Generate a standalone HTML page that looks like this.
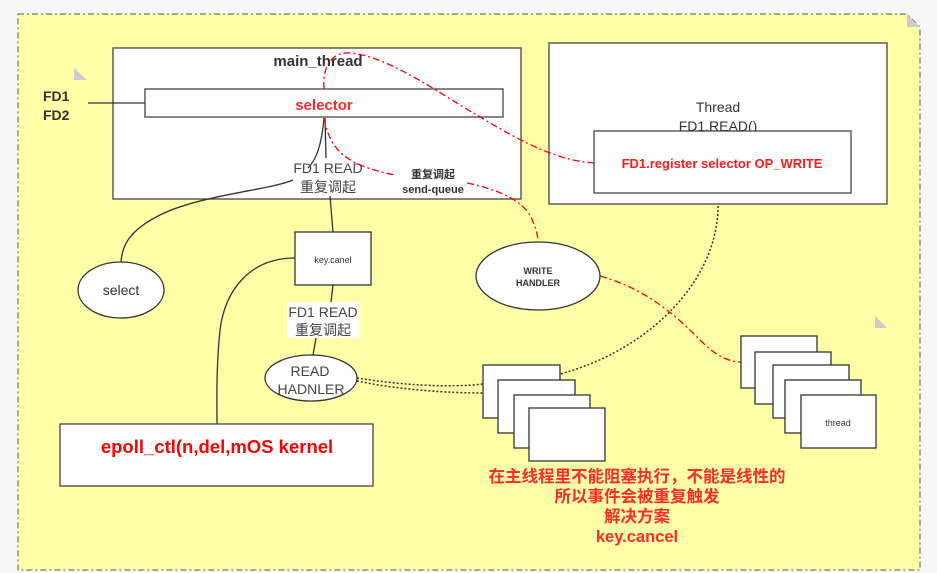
<!DOCTYPE html>
<html><head><meta charset="utf-8"><style>
html,body{margin:0;padding:0;background:#f8f8f8;}
svg{display:block;}
text{font-family:"Liberation Sans","Noto Sans CJK SC",sans-serif;}
</style></head><body>
<svg width="937" height="573" viewBox="0 0 937 573" xmlns="http://www.w3.org/2000/svg">
<rect x="0" y="0" width="937" height="573" fill="#f8f8f8"/>
<path d="M18,14 L907,14 L920,27 L920,570 L18,570 Z" fill="#ffffa8" stroke="#555" stroke-width="1" stroke-dasharray="6,3,2,3"/>
<path d="M907,14 L920,27 L907,27 Z" fill="#ccc"/>
<path d="M74,68 L87,80 L74,80 Z" fill="#ccc"/>
<path d="M875,316 L887,328 L875,328 Z" fill="#ccc"/>

<rect x="113" y="48" width="408" height="151" fill="#fff" stroke="#444" stroke-width="1.3"/>
<text x="318" y="66" font-size="15" font-weight="bold" fill="#333" text-anchor="middle">main_thread</text>
<rect x="145" y="89" width="358" height="28" fill="#fff" stroke="#444" stroke-width="1.3"/>
<text x="324" y="110" font-size="15" font-weight="bold" fill="#ff2a2a" text-anchor="middle">selector</text>
<text x="43" y="101" font-size="14" font-weight="bold" fill="#333">FD1</text>
<text x="43" y="120" font-size="14" font-weight="bold" fill="#333">FD2</text>
<line x1="88" y1="103" x2="145" y2="103" stroke="#333" stroke-width="1.3"/>

<rect x="549" y="43" width="338" height="161" fill="#fff" stroke="#444" stroke-width="1.3"/>
<text x="718" y="112" font-size="14" fill="#333" text-anchor="middle">Thread</text>
<text x="718" y="131" font-size="14" fill="#333" text-anchor="middle">FD1.READ()</text>
<rect x="594" y="131" width="257" height="62" fill="#fff" stroke="#444" stroke-width="1.3"/>
<text x="722" y="168" font-size="13" font-weight="bold" fill="#ff1a1a" text-anchor="middle">FD1.register selector OP_WRITE</text>

<path d="M324,118 C322,140 318,158 308,168" fill="none" stroke="#333" stroke-width="1.3"/>
<line x1="325" y1="118" x2="326" y2="158" stroke="#333" stroke-width="1.3"/>
<path d="M293,180 C270,190 200,195 160,215 C130,230 122,245 121,262" fill="none" stroke="#333" stroke-width="1.3"/>
<line x1="330" y1="196" x2="333" y2="232" stroke="#333" stroke-width="1.3"/>
<text x="328" y="173" font-size="14" fill="#444" text-anchor="middle">FD1 READ</text>
<text x="328" y="192" font-size="14" fill="#444" text-anchor="middle">重复调起</text>
<path d="M295,258 C250,258 225,290 220,330 C216,370 217,400 217,424" fill="none" stroke="#333" stroke-width="1.3"/>
<line x1="333" y1="285" x2="331" y2="302" stroke="#333" stroke-width="1.3"/>
<line x1="316" y1="338" x2="313" y2="355" stroke="#333" stroke-width="1.3"/>

<g fill="none" stroke="#ff0000" stroke-width="1.3" stroke-dasharray="7,3,2,3">
<path d="M324,89 C322,62 335,52 350,53 C380,55 420,80 460,105 C510,135 550,160 594,163"/>
<path d="M324,118 C330,150 345,165 395,175"/>
<path d="M467,183 C500,190 520,200 530,215 C536,228 538,235 538,242"/>
<path d="M600,276 C650,290 680,320 700,340 C715,355 728,362 741,362"/>
</g>
<text x="433" y="178" font-size="11" font-weight="bold" fill="#333" text-anchor="middle">重复调起</text>
<text x="433" y="193" font-size="11" font-weight="bold" fill="#333" text-anchor="middle">send-queue</text>

<g fill="none" stroke="#333" stroke-width="1.5" stroke-dasharray="2,2">
<path d="M718,206 C718,280 650,350 560,374"/>
<path d="M357,378 C400,385 450,388 483,384"/>
<path d="M357,381 C400,390 450,393 483,393"/>
</g>

<ellipse cx="121" cy="290" rx="43" ry="28" fill="#fff" stroke="#333" stroke-width="1.3"/>
<text x="121" y="295" font-size="14" fill="#333" text-anchor="middle">select</text>
<ellipse cx="538" cy="276" rx="62" ry="34" fill="#fff" stroke="#333" stroke-width="1.3"/>
<text x="538" y="274" font-size="9" font-weight="bold" fill="#333" text-anchor="middle">WRITE</text>
<text x="538" y="286" font-size="9" font-weight="bold" fill="#333" text-anchor="middle">HANDLER</text>
<ellipse cx="311" cy="378" rx="46" ry="23" fill="#fff" stroke="#333" stroke-width="1.3"/>
<text x="310" y="376" font-size="14" fill="#444" text-anchor="middle">READ</text>
<text x="311" y="394" font-size="14" fill="#444" text-anchor="middle">HADNLER</text>

<rect x="295" y="232" width="76" height="53" fill="#fff" stroke="#333" stroke-width="1.3"/>
<text x="333" y="263" font-size="9" fill="#333" text-anchor="middle">key.canel</text>
<rect x="287" y="302" width="73" height="36" fill="#fff"/>
<text x="323" y="317" font-size="14" fill="#444" text-anchor="middle">FD1 READ</text>
<text x="323" y="335" font-size="14" fill="#444" text-anchor="middle">重复调起</text>

<rect x="60" y="424" width="313" height="62" fill="#fff" stroke="#444" stroke-width="1.3"/>
<text x="217" y="453" font-size="18.5" font-weight="bold" fill="#ff0000" text-anchor="middle">epoll_ctl(n,del,mOS kernel</text>

<g fill="#fff" stroke="#333" stroke-width="1.3">
<rect x="483" y="365" width="77" height="53"/>
<rect x="498" y="380" width="77" height="53"/>
<rect x="514" y="395" width="76" height="53"/>
<rect x="529" y="408" width="76" height="53"/>
<rect x="741" y="336" width="76" height="52"/>
<rect x="755" y="352" width="76" height="52"/>
<rect x="773" y="365" width="76" height="53"/>
<rect x="785" y="380" width="76" height="53"/>
<rect x="801" y="395" width="75" height="53"/>
</g>
<text x="838" y="426" font-size="9" fill="#333" text-anchor="middle">thread</text>

<g font-size="16.5" font-weight="bold" fill="#ff2a2a" text-anchor="middle">
<text x="637" y="482">在主线程里不能阻塞执行，不能是线性的</text>
<text x="637" y="502">所以事件会被重复触发</text>
<text x="637" y="522">解决方案</text>
<text x="637" y="542">key.cancel</text>
</g>
</svg>
</body></html>
